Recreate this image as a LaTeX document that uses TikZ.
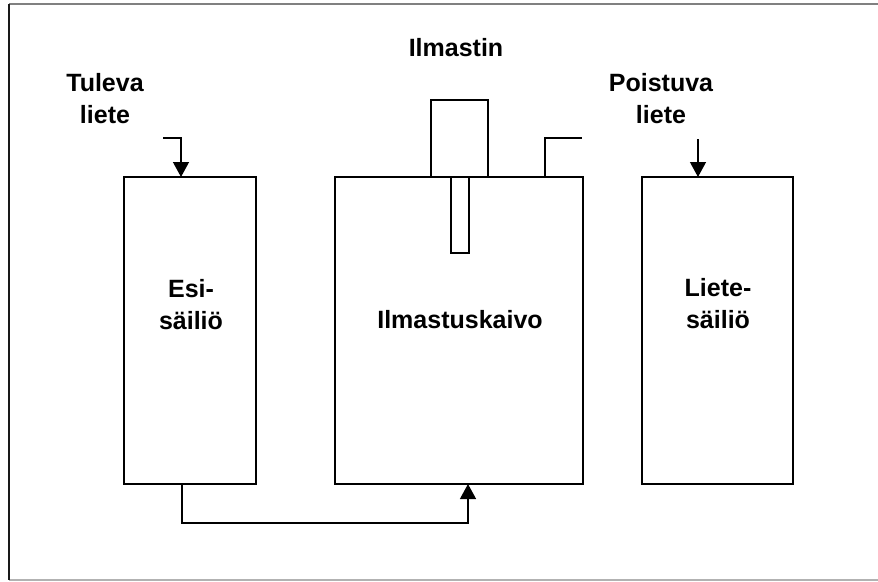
\documentclass[tikz,border=0pt]{standalone}
\usepackage{fontspec}
\setmainfont{Liberation Sans}
\usetikzlibrary{arrows.meta}
\begin{document}
\begin{tikzpicture}[x=1pt,y=-1pt,
  tank/.style={draw=black,line width=2.8pt,inner sep=0pt,outer sep=0pt,fill=none},
  part/.style={draw=black,line width=2.4pt,inner sep=0pt,outer sep=0pt},
  lbl/.style={font=\bfseries\fontsize{25}{32}\selectfont,align=center,inner sep=0pt},
  pipe/.style={draw=black,line width=1.3pt},
  arr/.style={pipe,-{Triangle[length=15pt,width=16pt]}}]
\useasboundingbox (0,0) rectangle (878,581);
% frame
\draw[line width=1.6pt,color=black!50] (878,4) -- (9,4);
\draw[line width=1.4pt,color=black!30] (9,580) -- (878,580);
\draw[line width=2pt,color=black!90] (9,4) -- (9,580);
% tanks
\node[tank,minimum width=132pt,minimum height=307pt] (esi) at (190,330.5) {};
\node[tank,minimum width=248pt,minimum height=307pt] (kaivo) at (459,330.5) {};
\node[tank,minimum width=151pt,minimum height=307pt] (liete) at (717.5,330.5) {};
% aerator
\node[part,minimum width=57pt,minimum height=77pt] (ilm) at (459.5,138.5) {};
\node[part,minimum width=18pt,minimum height=76pt] (shaft) at (460,215) {};
% labels
\node[lbl] (tlbl) at (105,99) {Tuleva\\liete};
\node[lbl] (plbl) at (661,98.5) {Poistuva\\liete};
\node[lbl,anchor=base] (ilbl) at (456,56) {Ilmastin};
\node[lbl] (elbl) at (191,304.5) {Esi-\\säiliö};
\node[lbl,anchor=base] (klbl) at (460,328) {Ilmastuskaivo};
\node[lbl] (llbl) at (718,303.5) {Liete-\\säiliö};
% connectors
\coordinate (inA) at (163,138);
\draw[arr] (inA) -| ([xshift=-9pt]esi.north);
\coordinate (outA) at (582,138);
\draw[pipe] ([xshift=86pt]kaivo.north) |- (outA);
\coordinate (poA) at (698,139);
\draw[arr] (poA) -- (poA |- liete.north);
\draw[arr] ([xshift=-8pt]esi.south) -- ++(0,39) -| ([xshift=9pt]kaivo.south);
\end{tikzpicture}
\end{document}
